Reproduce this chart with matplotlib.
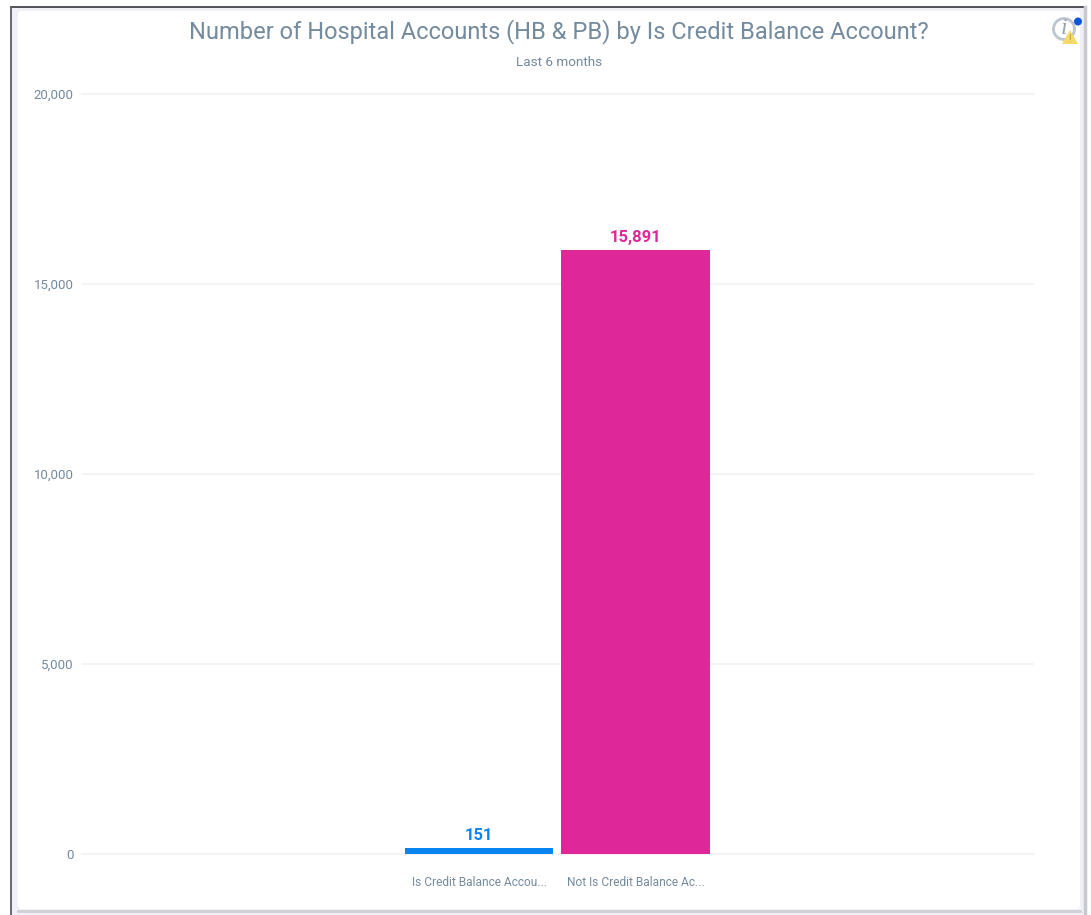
import matplotlib
matplotlib.use('Agg')
import matplotlib.pyplot as plt
from matplotlib.patches import Circle, Polygon, Rectangle, FancyBboxPatch

categories = ['Is Credit Balance Accou...', 'Not Is Credit Balance Ac...']
values = [151, 15891]
colors = ['#0a84ee', '#de289a']
yticks = [0, 5000, 10000, 15000, 20000]

W, H = 1091, 915
plt.rcParams['font.family'] = ['Roboto', 'DejaVu Sans']
fig = plt.figure(figsize=(W / 100, H / 100), dpi=100, facecolor='white')

# page furniture drawn in pixel coordinates
bg = fig.add_axes([0, 0, 1, 1], zorder=0)
bg.set_xlim(0, W)
bg.set_ylim(H, 0)
bg.axis('off')
bg.add_patch(Rectangle((11, 7), 1074, 908, fc='#f0f0f6', ec='none'))
bg.add_patch(FancyBboxPatch((18, 11), 1062, 898, boxstyle='round,pad=0,rounding_size=3',
                            fc='white', ec='none'))
bg.plot([11, 1085], [7, 7], color='#44444c', lw=1.3)
bg.plot([11, 11], [7, 915], color='#5c5c64', lw=1.3)
bg.plot([1085, 1085], [7, 915], color='#c8c8d0', lw=2.5)
bg.plot([18, 1080], [911, 911], color='#cfcfd8', lw=2)

# info icon
bg.add_patch(Circle((1064, 29), 10.5, fc='white', ec='#bcc6d0', lw=2))
bg.text(1064, 29, 'i', fontsize=17, style='italic', color='#98a4b0', ha='center', va='center',
        family=['Liberation Serif', 'DejaVu Serif'])
bg.add_patch(Polygon([[1070, 30], [1062, 44], [1078, 44]], fc='#f6da6a', ec='none'))
bg.text(1070, 38.5, '!', fontsize=7, color='#b09a40', ha='center', va='center')
bg.add_patch(Circle((1078, 21.5), 4, fc='#0b57d8', ec='none'))

bg.text(559, 32, 'Number of Hospital Accounts (HB & PB) by Is Credit Balance Account?',
        fontsize=17, color='#748a9d', ha='center', va='center')
bg.text(559, 62, 'Last 6 months', fontsize=9.7, color='#748a9d', ha='center', va='center')

# chart
left, right, top, bottom = 82, 1034, 94, 854
ax = fig.add_axes([left / W, 1 - bottom / H, (right - left) / W, (bottom - top) / H], zorder=1)
ax.patch.set_alpha(0)
x = list(range(len(categories)))
bars = ax.bar(x, values, width=0.95, color=colors, zorder=3)
ax.set_xlim(-2.54, 3.55)
ax.set_ylim(0, 20000)
ax.set_yticks(yticks)
ax.set_yticklabels([f'{v:,}' for v in yticks], fontsize=9.5, color='#748a9d')
ax.set_xticks(x)
ax.set_xticklabels(categories, fontsize=8.6, color='#748a9d')
ax.tick_params(axis='both', length=0)
ax.tick_params(axis='x', pad=16)
ax.tick_params(axis='y', pad=6)
ax.grid(axis='y', color='#f3f4f8', lw=1.4, zorder=0)
ax.set_axisbelow(True)
for s in ax.spines.values():
    s.set_visible(False)
ax.yaxis.get_gridlines()[0].set_clip_on(False)
ax.yaxis.get_gridlines()[-1].set_clip_on(False)

for b, v, c in zip(bars, values, colors):
    ax.annotate(f'{v:,}', (b.get_x() + b.get_width() / 2, v), xytext=(0, 3.5),
                textcoords='offset points', ha='center', va='bottom',
                fontsize=12, fontweight='bold', color=c)

fig.savefig('out.png', dpi=100)
